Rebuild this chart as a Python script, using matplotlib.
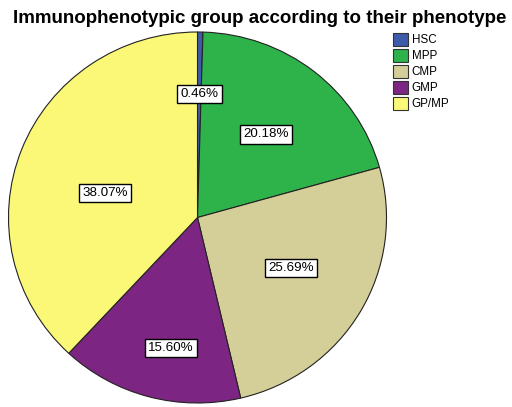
import matplotlib
matplotlib.use("Agg")
import matplotlib.pyplot as plt
from matplotlib.patches import Patch
import numpy as np

categories = ["HSC", "MPP", "CMP", "GMP", "GP/MP"]
values = [0.46, 20.18, 25.69, 15.60, 38.07]
colors = ["#3E5AAB", "#2DB34A", "#D4CF98", "#7C2582", "#FBF877"]
title = "Immunophenotypic group according to their phenotype"

# label placement style (radial distance, angle tweak in degrees)
label_dist = [0.666, 0.576, 0.564, 0.717, 0.505]
label_dang = [0.0, -1.0, 1.5, 3.5, 6.5]

plt.rcParams['font.family'] = ['Liberation Sans', 'DejaVu Sans']

fig = plt.figure(figsize=(5.12, 4.07), dpi=100)
ax = fig.add_axes([8.5/512, 4/407, 378/512, 371/407])

wedges, texts, autotexts = ax.pie(
    values, colors=colors, startangle=90, counterclock=False,
    autopct=lambda p: f"{p:.2f}%", pctdistance=0.55, radius=1.0,
    wedgeprops=dict(edgecolor="#222222", linewidth=0.8),
    textprops=dict(fontsize=9.6))
for w, t, d, da in zip(wedges, autotexts, label_dist, label_dang):
    mid = np.deg2rad((w.theta1 + w.theta2) / 2 + da)
    t.set_position((d * np.cos(mid), d * np.sin(mid)))
    t.set_bbox(dict(boxstyle="square,pad=0.24", facecolor="white", edgecolor="black", linewidth=1.0))

ax.set_aspect('auto')
ax.set_xlim(-1, 1)
ax.set_ylim(-1, 1)

fig.text(0.508, 0.955, title, ha='center', va='center', fontsize=13.5, fontweight='bold')

handles = [Patch(facecolor=c, edgecolor="#333333", linewidth=0.8) for c in colors]
fig.legend(handles, categories, loc='upper left', bbox_to_anchor=(393/512, 1 - 33/407),
           frameon=False, fontsize=8.4, handlelength=1.3, handleheight=1.35,
           handletextpad=0.3, labelspacing=0.22, borderaxespad=0, borderpad=0)

fig.savefig("out.png", dpi=100)
